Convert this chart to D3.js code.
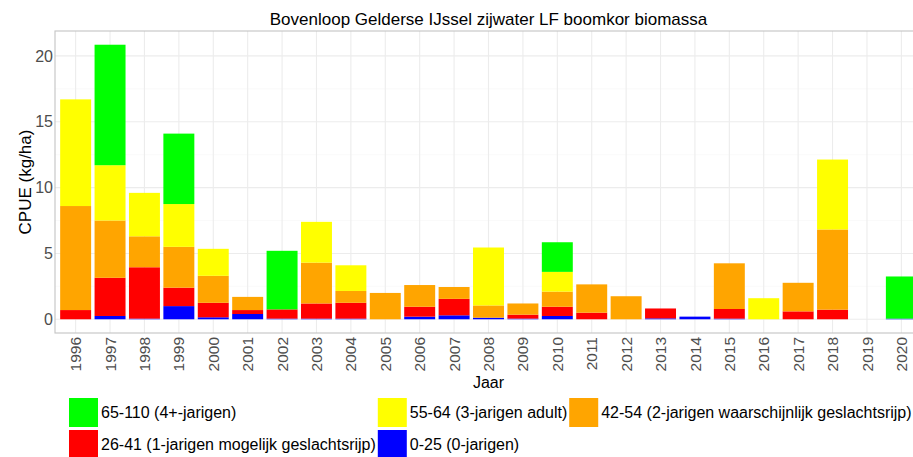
<!DOCTYPE html>
<html>
<head>
<meta charset="utf-8">
<script src="https://cdn.jsdelivr.net/npm/d3@7"></script>
<style>
  html, body { margin: 0; padding: 0; background: #fff; }
  svg { display: block; font-family: "Liberation Sans", Arial, sans-serif; }
</style>
</head>
<body>
<svg id="chart" width="913" height="457"></svg>
<script>
// Survey years on the x axis
const years = ["1996","1997","1998","1999","2000","2001","2002","2003","2004","2005",
  "2006","2007","2008","2009","2010","2011","2012","2013","2014","2015",
  "2016","2017","2018","2019","2020"];

// CPUE (kg/ha) per length class, one value per year
const len0_25   = [0.00,0.25,0.05,1.00,0.15,0.40,0.05,0.05,0.05,0.00,
  0.20,0.30,0.12,0.05,0.25,0.00,0.00,0.07,0.20,0.05,
  0.00,0.00,0.00,0.00,0.05];
const len26_41  = [0.70,2.90,3.90,1.40,1.10,0.30,0.70,1.15,1.20,0.00,
  0.75,1.25,0.00,0.30,0.70,0.50,0.00,0.75,0.00,0.73,
  0.00,0.60,0.73,0.00,0.00];
const len42_54  = [7.90,4.35,2.35,3.10,2.05,1.00,0.00,3.10,0.90,2.00,
  1.65,0.90,0.93,0.85,1.15,2.15,1.75,0.00,0.00,3.47,
  0.00,2.17,6.09,0.00,0.00];
const len55_64  = [8.10,4.20,3.30,3.25,2.05,0.00,0.00,3.10,1.95,0.00,
  0.00,0.00,4.40,0.00,1.50,0.00,0.00,0.00,0.00,0.00,
  1.60,0.00,5.31,0.00,0.00];
const len65_110 = [0.00,9.15,0.00,5.35,0.00,0.00,4.45,0.00,0.00,0.00,
  0.00,0.00,0.00,0.00,2.25,0.00,0.00,0.00,0.00,0.00,
  0.00,0.00,0.00,0.00,3.20];

// Length classes, bottom of the stack first
const classKeys   = ["c0", "c26", "c42", "c55", "c65"];
const classLabels = ["0-25 (0-jarigen)", "26-41 (1-jarigen mogelijk geslachtsrijp)",
  "42-54 (2-jarigen waarschijnlijk geslachtsrijp)", "55-64 (3-jarigen adult)", "65-110 (4+-jarigen)"];
const classColors = ["#0000ff", "#ff0000", "#ffa500", "#ffff00", "#00ff00"];
const seriesValues = [len0_25, len26_41, len42_54, len55_64, len65_110];

const yTicks = [0, 5, 10, 15, 20];
const titleText = "Bovenloop Gelderse IJssel zijwater LF boomkor biomassa";
const xTitle = "Jaar";
const yTitle = "CPUE (kg/ha)";

const table = years.map((y, i) => {
  const row = { year: y };
  classKeys.forEach((k, j) => { row[k] = seriesValues[j][i]; });
  return row;
});

const svg = d3.select("#chart");
const panel = { left: 55, top: 31, right: 922, bottom: 333 };

const x = d3.scaleBand()
  .domain(years)
  .range([panel.left, panel.right])
  .paddingInner(0.1)
  .paddingOuter(0.15);

const stacked = d3.stack().keys(classKeys)(table);
const maxTotal = d3.max(table, d => d3.sum(classKeys, k => d[k]));
const y = d3.scaleLinear()
  .domain([-0.05 * maxTotal, 1.05 * maxTotal])
  .range([panel.bottom, panel.top]);

// panel background grid
const grid = svg.append("g");
const minor = d3.range(2.5, 21, 5);
grid.selectAll("line.minor").data(minor).join("line")
  .attr("x1", panel.left).attr("x2", panel.right)
  .attr("y1", d => y(d)).attr("y2", d => y(d))
  .attr("stroke", "#f6f6f6").attr("stroke-width", 0.6);
grid.selectAll("line.major").data(yTicks).join("line")
  .attr("x1", panel.left).attr("x2", panel.right)
  .attr("y1", d => y(d)).attr("y2", d => y(d))
  .attr("stroke", "#ececec").attr("stroke-width", 1.1);
grid.selectAll("line.vmajor").data(years).join("line")
  .attr("x1", d => x(d) + x.bandwidth() / 2).attr("x2", d => x(d) + x.bandwidth() / 2)
  .attr("y1", panel.top).attr("y2", panel.bottom)
  .attr("stroke", "#ececec").attr("stroke-width", 1.1);

// stacked bars
svg.append("g").selectAll("g").data(stacked).join("g")
  .attr("fill", (d, i) => classColors[i])
  .selectAll("rect").data(d => d).join("rect")
  .attr("x", d => x(d.data.year))
  .attr("width", x.bandwidth())
  .attr("y", d => y(d[1]))
  .attr("height", d => Math.max(0, y(d[0]) - y(d[1])));

// panel border
svg.append("rect")
  .attr("x", panel.left).attr("y", panel.top)
  .attr("width", panel.right - panel.left).attr("height", panel.bottom - panel.top)
  .attr("fill", "none").attr("stroke", "#c4c4c4").attr("stroke-width", 1.1);

// y axis labels
const yAxis = d3.axisLeft(y).tickValues(yTicks).tickSize(0).tickPadding(2);
const yg = svg.append("g").attr("transform", `translate(${panel.left},0)`).call(yAxis);
yg.select(".domain").remove();
yg.selectAll("text").attr("fill", "#4d4d4d").style("font-size", "16px")
  .style("font-family", "'Liberation Sans', Arial, sans-serif");

// x axis labels, rotated
const xAxis = d3.axisBottom(x).tickSize(0).tickPadding(0);
const xg = svg.append("g").attr("transform", `translate(0,${panel.bottom})`).call(xAxis);
xg.select(".domain").remove();
xg.selectAll("text")
  .attr("fill", "#4d4d4d").style("font-size", "15.5px")
  .style("font-family", "'Liberation Sans', Arial, sans-serif")
  .attr("transform", "rotate(-90)")
  .attr("text-anchor", "end")
  .attr("x", -4).attr("y", 0).attr("dy", "0.36em");

// titles
svg.append("text").attr("x", (panel.left + panel.right) / 2).attr("y", 25)
  .attr("text-anchor", "middle").style("font-size", "17px").attr("fill", "#000")
  .text(titleText);
svg.append("text").attr("x", (panel.left + panel.right) / 2).attr("y", 388)
  .attr("text-anchor", "middle").style("font-size", "16px").attr("fill", "#000")
  .text(xTitle);
svg.append("text")
  .attr("transform", `translate(31,${(panel.top + panel.bottom) / 2}) rotate(-90)`)
  .attr("text-anchor", "middle").style("font-size", "17px").attr("fill", "#000")
  .text(yTitle);

// legend: three columns, filled by row, top class first
const legendOrder = [4, 3, 2, 1, 0];
const key = 29, rowH = 32, legX = 69, legY = 398, textGap = 3, colGap = 2;
const lg = svg.append("g");
const items = legendOrder.map((ci, n) => ({ ci, row: Math.floor(n / 3), col: n % 3 }));
// measure text widths to size each column
const measure = lg.append("text").style("font-size", "16px");
const widths = items.map(it => { measure.text(classLabels[it.ci]); return measure.node().getComputedTextLength(); });
measure.remove();
const colW = [0, 1, 2].map(c => d3.max(items.filter(it => it.col === c), it => widths[items.indexOf(it)]));
const colX = [legX];
for (let c = 1; c < 3; c++) colX[c] = colX[c - 1] + key + textGap + colW[c - 1] + colGap;

items.forEach(it => {
  const gx = colX[it.col], gy = legY + it.row * rowH;
  lg.append("rect").attr("x", gx).attr("y", gy).attr("width", key).attr("height", key)
    .attr("fill", classColors[it.ci]);
  lg.append("text").attr("x", gx + key + textGap).attr("y", gy + key / 2)
    .attr("dy", "0.36em").style("font-size", "16px").attr("fill", "#000")
    .text(classLabels[it.ci]);
});
</script>
</body>
</html>
